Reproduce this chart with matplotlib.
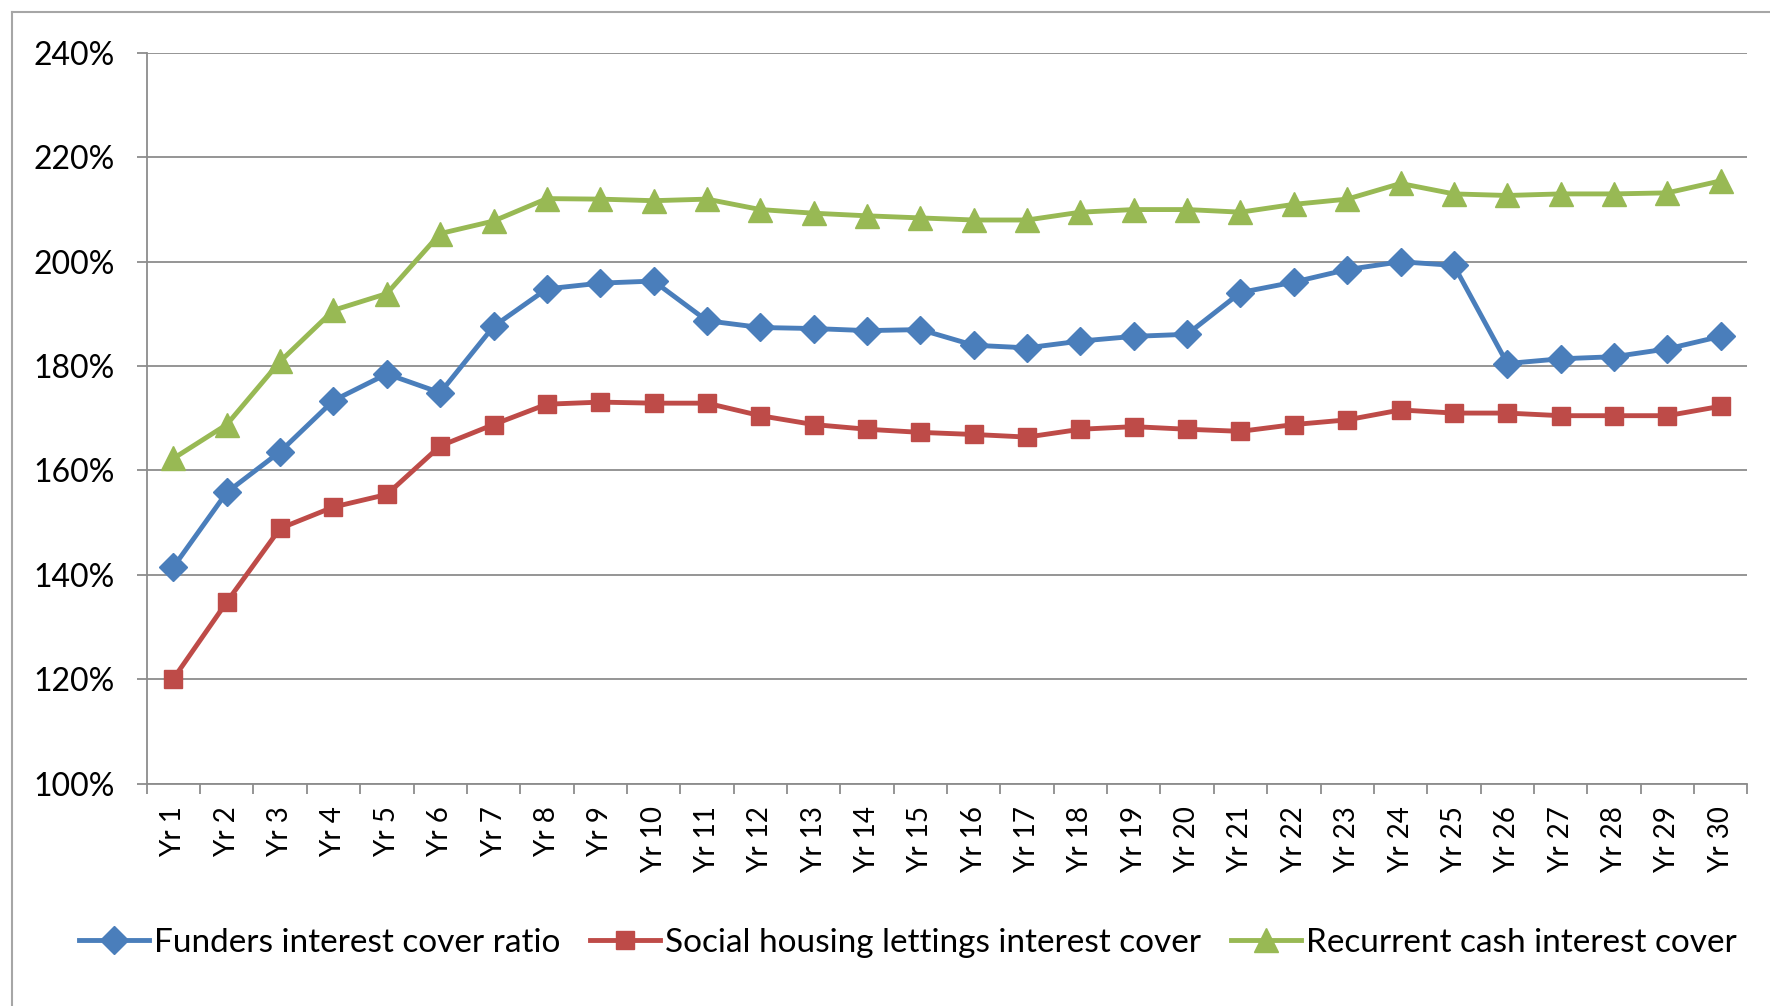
import matplotlib.pyplot as plt
from matplotlib.lines import Line2D
from matplotlib.ticker import FixedLocator

plt.rcParams["font.family"] = ["Lato", "DejaVu Sans"]

years = [f"Yr {i}" for i in range(1, 31)]

funders_cover = [
    141.5, 155.8, 163.6, 173.4, 178.5, 174.9, 187.6, 194.8, 195.9, 196.3,
    188.7, 187.4, 187.2, 186.8, 187.0, 184.0, 183.5, 184.8, 185.7, 186.1,
    194.1, 196.1, 198.5, 200.0, 199.3, 180.5, 181.4, 181.8, 183.3, 185.7,
]
social_housing_cover = [
    120.1, 134.8, 148.9, 153.0, 155.4, 164.7, 168.8, 172.7, 173.1, 172.9,
    172.9, 170.5, 168.8, 167.9, 167.3, 166.9, 166.4, 167.9, 168.4, 167.9,
    167.5, 168.8, 169.7, 171.6, 171.0, 171.0, 170.5, 170.5, 170.5, 172.3,
]
recurrent_cash_cover = [
    162.3, 168.8, 180.9, 190.7, 193.9, 205.4, 207.8, 212.1, 212.0, 211.7,
    212.0, 210.0, 209.3, 208.8, 208.4, 208.0, 208.0, 209.5, 210.0, 210.0,
    209.5, 211.0, 212.0, 215.0, 213.0, 212.7, 213.0, 213.0, 213.2, 215.5,
]

series_names = [
    "Funders interest cover ratio",
    "Social housing lettings interest cover",
    "Recurrent cash interest cover",
]
y_ticks = [100, 120, 140, 160, 180, 200, 220, 240]

GRID = "#8c8c8c"

fig = plt.figure(figsize=(17.7, 10.06), dpi=100)
ax = fig.add_axes([0.0829, 0.2211, 0.9043, 0.7262])

xs = list(range(len(years)))
styles = [
    ("#4a7ebb", "D", 14),
    ("#be4b48", "s", 12.5),
    ("#98b954", "^", 17),
]
for values, name, (color, marker, ms) in zip(
    [funders_cover, social_housing_cover, recurrent_cash_cover], series_names, styles
):
    ax.plot(xs, values, color=color, linewidth=3.5, marker=marker, markersize=ms,
            markeredgecolor=color, markerfacecolor=color, label=name, zorder=3)

ax.set_xlim(-0.5, len(years) - 0.5)
ax.set_ylim(100, 240)
ax.set_yticks(y_ticks)
ax.set_yticklabels([f"{v}%" for v in y_ticks])
ax.set_xticks(xs)
ax.set_xticklabels(years, rotation=90)
ax.xaxis.set_minor_locator(FixedLocator([x - 0.5 for x in range(len(years) + 1)]))

ax.grid(axis="y", color=GRID, linewidth=1.3)
ax.set_axisbelow(True)
for side in ("top", "right"):
    ax.spines[side].set_visible(False)
for side in ("left", "bottom"):
    ax.spines[side].set_color(GRID)
    ax.spines[side].set_linewidth(1.3)

ax.tick_params(axis="y", which="major", length=7, width=1.3, color=GRID,
               labelsize=23, pad=16)
ax.tick_params(axis="x", which="major", length=0, labelsize=20, pad=16)
ax.tick_params(axis="x", which="minor", length=7, width=1.3, color=GRID)

fig.legend(loc="center", bbox_to_anchor=(0.513, 0.063), ncol=3, frameon=False,
           fontsize=24, handlelength=2.1, handletextpad=0.15, columnspacing=0.9)

# chart area border (left and top edges visible in the crop)
fig.add_artist(Line2D([0.0065, 0.0065], [0.0, 0.988], transform=fig.transFigure,
                      color="#a6a6a6", linewidth=1.5))
fig.add_artist(Line2D([0.0065, 1.0], [0.988, 0.988], transform=fig.transFigure,
                      color="#a6a6a6", linewidth=1.5))

fig.savefig("out.png", dpi=100)
